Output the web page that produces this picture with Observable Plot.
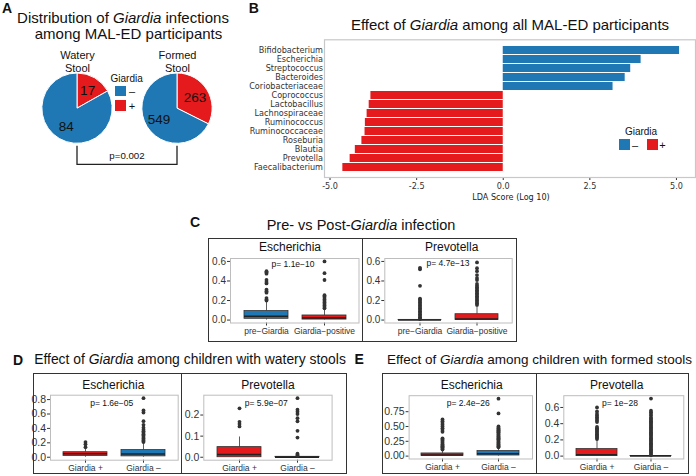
<!DOCTYPE html>
<html><head><meta charset="utf-8">
<script src="https://cdn.jsdelivr.net/npm/d3@7"></script>
<script src="https://cdn.jsdelivr.net/npm/@observablehq/plot@0.6"></script>
<style>
html,body{margin:0;padding:0;background:#fff;}
#fig{position:relative;width:696px;height:476px;overflow:hidden;font-family:"Liberation Sans",Arial,Helvetica,sans-serif;color:#111;background:#fff;}
.t{position:absolute;white-space:nowrap;line-height:1;transform:translate(-50%,-50%);}
.box{position:absolute;border:1px solid #333;box-sizing:border-box;}
.vl{position:absolute;width:1px;background:#333;}
.sw{position:absolute;width:11px;height:11px;}
.cond{font-family:"Liberation Sans Narrow","Arial Narrow","DejaVu Sans Condensed",sans-serif;}
svg.bx g[aria-label^="x-axis"] text{font-size:8.5px;}
</style></head><body><div id="fig"></div>
<script>
// ---------- Panel A data ----------
const stoolTypes = ["Watery\nStool", "Formed\nStool"];
const giardiaNeg = [84, 549];
const giardiaPos = [17, 263];
const pValueA = "p=0.002";

// ---------- Panel B data ----------
const genera = ["Bifidobacterium","Escherichia","Streptococcus","Bacteroides","Coriobacteriaceae","Coprococcus","Lactobacillus","Lachnospiraceae","Ruminococcus","Ruminococcaceae","Roseburia","Blautia","Prevotella","Faecalibacterium"];
const ldaScores = [5.09, 3.98, 3.68, 3.52, 3.17, -3.82, -3.87, -3.93, -3.98, -3.99, -4.08, -4.27, -4.42, -4.63];
const ldaGroup = ["–","–","–","–","–","+","+","+","+","+","+","+","+","+"];
const ldaTicks = [-5, -2.5, 0, 2.5, 5];

// ---------- Box plot groups ----------
const groupsC = ["pre−Giardia", "Giardia−positive"];
const groupsDE = ["Giardia +", "Giardia –"];
// each row: [q1, median, q3, lower whisker, upper whisker]
const boxC_Esch = [[0.013, 0.04, 0.092, 0, 0.19], [0.005, 0.022, 0.047, 0, 0.11]];
const outC_Esch = [[0.20, 0.21, 0.225, 0.28, 0.295, 0.31, 0.375, 0.39, 0.41, 0.475, 0.49, 0.50],
                   [0.12, 0.135, 0.15, 0.165, 0.18, 0.195, 0.21, 0.225, 0.24, 0.255, 0.41, 0.48, 0.60]];
const boxC_Prev = [[0, 0, 0.002, 0, 0.004], [0, 0.012, 0.06, 0, 0.145]];
const outC_Prev = [[0.01, 0.02, 0.03, 0.045, 0.06, 0.075, 0.09, 0.105, 0.12, 0.135, 0.15, 0.165, 0.18, 0.195, 0.21, 0.22, 0.35, 0.52, 0.535],
                   [0.155, 0.17, 0.185, 0.2, 0.215, 0.23, 0.245, 0.26, 0.275, 0.29, 0.305, 0.32, 0.335, 0.35, 0.37, 0.41, 0.43, 0.46, 0.50, 0.53, 0.59]];
const boxD_Esch = [[0.018, 0.05, 0.07, 0, 0.12], [0.012, 0.045, 0.1, 0, 0.2]];
const outD_Esch = [[0.14, 0.18, 0.21],
                   [0.21, 0.225, 0.24, 0.26, 0.28, 0.30, 0.32, 0.34, 0.36, 0.38, 0.41, 0.45, 0.50, 0.62, 0.65, 0.82]];
const boxD_Prev = [[0, 0.013, 0.048, 0, 0.096], [0, 0, 0.002, 0, 0.004]];
const outD_Prev = [[0.146, 0.158, 0.168, 0.232],
                   [0.008, 0.012, 0.017, 0.093, 0.125, 0.17, 0.185, 0.205, 0.215, 0.225, 0.28]];
const boxE_Esch = [[0.005, 0.02, 0.045, 0, 0.1], [0.01, 0.04, 0.085, 0, 0.14]];
const outE_Esch = [[0.11, 0.12, 0.135, 0.15, 0.165, 0.18, 0.2, 0.22, 0.24, 0.26, 0.28, 0.3, 0.41, 0.44, 0.47, 0.5, 0.53, 0.56, 0.59, 0.62],
                   [0.15, 0.165, 0.18, 0.195, 0.21, 0.225, 0.24, 0.255, 0.27, 0.285, 0.3, 0.315, 0.33, 0.345, 0.36, 0.375, 0.39, 0.405, 0.42, 0.435, 0.45, 0.465, 0.48, 0.5, 0.72, 0.97]];
const boxE_Prev = [[0, 0.018, 0.087, 0, 0.2], [0, 0, 0.002, 0, 0.004]];
const outE_Prev = [[0.21, 0.225, 0.24, 0.255, 0.27, 0.285, 0.3, 0.315, 0.33, 0.345, 0.36, 0.42, 0.44, 0.46, 0.48, 0.5, 0.52, 0.55, 0.6],
                   [0.01, 0.025, 0.04, 0.055, 0.07, 0.085, 0.1, 0.115, 0.13, 0.145, 0.16, 0.175, 0.19, 0.205, 0.22, 0.235, 0.25, 0.265, 0.28, 0.295, 0.31, 0.325, 0.34, 0.355, 0.37, 0.385, 0.4, 0.415, 0.43, 0.445, 0.46, 0.475, 0.5, 0.52, 0.54, 0.56, 0.71]];
const pLabels = ["p= 1.1e−10", "p= 4.7e−13", "p= 1.6e−05", "p= 5.9e−07", "p= 2.4e−26", "p= 1e−28"];

const BLUE = "#1f78b4", RED = "#e41a1c";

// ---------- helpers ----------
const fig = document.getElementById("fig");
function T(html, x, y, size, o = {}) {
  const d = document.createElement("div");
  d.className = "t" + (o.cls ? " " + o.cls : "");
  d.innerHTML = html;
  d.style.left = x + "px"; d.style.top = y + "px"; d.style.fontSize = size + "px";
  if (o.bold) d.style.fontWeight = "bold";
  if (o.color) d.style.color = o.color;
  (o.parent || fig).appendChild(d);
  return d;
}
function place(el, left, top, parent) {
  el.style.position = "absolute"; el.style.left = left + "px"; el.style.top = top + "px";
  (parent || fig).appendChild(el);
}
function div(cls, l, t, w, h, bg) {
  const d = document.createElement("div");
  d.className = cls; d.style.left = l + "px"; d.style.top = t + "px";
  if (w != null) d.style.width = w + "px"; if (h != null) d.style.height = h + "px";
  if (bg) d.style.background = bg;
  fig.appendChild(d); return d;
}

// ---------- Panel A ----------
T("A", 7, 8, 14, {bold: true});
T("Distribution of <i>Giardia</i> infections", 123, 16.7, 15);
T("among MAL-ED participants", 128.5, 33.3, 15);

const pieData = stoolTypes.map((s, i) => ({stool: s, neg: giardiaNeg[i], pos: giardiaPos[i]}));
const pieColors = {"+": RED, "–": BLUE};
function pies(index, scales, values, dims) {
  const x = scales.x;
  const r = (dims.height - dims.marginTop - dims.marginBottom) / 2;
  const cy = dims.marginTop + r;
  const g = d3.create("svg:g");
  const pie = d3.pie().sort(null).value(d => d.v);
  const arc = d3.arc().innerRadius(0).outerRadius(r);
  const lab = d3.arc().innerRadius(r * 0.6).outerRadius(r * 0.6);
  pieData.forEach(d => {
    const arcs = pie([{k: "+", v: d.pos}, {k: "–", v: d.neg}]);
    const gg = g.append("g").attr("transform", `translate(${x(d.stool)},${cy})`);
    gg.selectAll("path").data(arcs).join("path").attr("d", arc)
      .attr("fill", a => pieColors[a.data.k]).attr("stroke", "white").attr("stroke-width", 1);
    gg.selectAll("text").data(arcs).join("text")
      .attr("transform", a => `translate(${lab.centroid(a)})`)
      .attr("text-anchor", "middle").attr("dy", "0.36em").attr("font-size", 13.5).attr("fill", "#111")
      .text(a => a.data.v);
  });
  const x0 = x(stoolTypes[0]), x1 = x(stoolTypes[1]);
  const yb0 = cy + r + 2.5, yb1 = dims.height - 5.7;
  g.append("path").attr("d", `M${x0},${yb0}V${yb1}H${x1}V${yb0}`)
    .attr("fill", "none").attr("stroke", "#222").attr("stroke-width", 1.3);
  g.append("text").attr("x", (x0 + x1) / 2).attr("y", yb1 - 8.6).attr("dy", "0.36em")
    .attr("text-anchor", "middle").attr("font-size", 9.7).attr("fill", "#111").text(pValueA);
  return g.node();
}
const pieSvg = Plot.plot({
  width: 230, height: 125, marginLeft: 76.7, marginRight: 52.3, marginTop: 28, marginBottom: 26.7,
  style: {background: "transparent", fontFamily: "Liberation Sans, Arial, sans-serif", overflow: "visible"},
  x: {type: "point", domain: stoolTypes, padding: 0, axis: null},
  marks: [
    Plot.text(pieData, {x: "stool", text: "stool", frameAnchor: "top", lineAnchor: "bottom", dy: -1.3, fontSize: 11, lineHeight: 1.22, fill: "#111"}),
    pies
  ]
});
place(pieSvg, 0, 45);
// legend A
T("Giardia", 126.7, 79, 10);
div("sw", 115, 85.5, 10.5, 10.5, BLUE);
div("sw", 115, 100, 10.5, 10.5, RED);
T("–", 132, 90.5, 11);
T("+", 132, 105.5, 11);

// ---------- Panel B ----------
T("B", 253.8, 7.5, 14, {bold: true});
T("Effect of <i>Giardia</i> among all MAL-ED participants", 510, 24, 15);
const barData = genera.map((g, i) => ({genus: g, lda: ldaScores[i], grp: ldaGroup[i]}));
const barSvg = Plot.plot({
  width: 466, height: 170, marginLeft: 94, marginRight: 1, marginTop: 9.3, marginBottom: 23,
  style: {background: "transparent", fontFamily: "Liberation Sans Narrow, Arial Narrow, DejaVu Sans Condensed, sans-serif", fontSize: "9px", color: "#333"},
  x: {domain: [-5.16, 5.55], ticks: ldaTicks, tickFormat: d => d.toFixed(1), tickSize: 3, tickPadding: 2, label: null},
  y: {domain: genera, padding: 0.1, tickSize: 0, tickPadding: 1.5, label: null},
  color: {domain: ["–", "+"], range: [BLUE, RED]},
  marks: [
    Plot.barX(barData, {x: "lda", y: "genus", fill: "grp"}),
    Plot.frame({stroke: "#c8c8c8", strokeWidth: 1.2})
  ]
});
place(barSvg, 230, 30);
T("LDA Score (Log 10)", 511, 196.5, 9, {cls: "cond", color: "#222"});
// legend B
T("Giardia", 641, 132, 10);
div("sw", 619, 139, 11, 11, BLUE);
div("sw", 646.7, 139, 11, 11, RED);
T("–", 635, 144.5, 11);
T("+", 662.5, 144.5, 11);

// ---------- box plot facets ----------
function boxFacet(o) {
  const stats = o.groups.map((g, i) => ({g, q1: o.box[i][0], med: o.box[i][1], q3: o.box[i][2], lo: o.box[i][3], hi: o.box[i][4], col: o.fills[i]}));
  const outs = o.groups.flatMap((g, i) => o.out[i].map(v => ({g, v})));
  const svg = Plot.plot({
    width: o.w, height: o.h, marginLeft: o.ml, marginRight: o.mr, marginTop: o.mt, marginBottom: o.mb,
    style: {background: "transparent", fontFamily: "Liberation Sans, Arial, sans-serif", fontSize: o.yfs + "px", color: "#333", overflow: "visible"},
    x: {type: "band", domain: o.groups, paddingInner: 0.25, paddingOuter: 0.225, tickSize: 3, tickPadding: o.xpad, label: null},
    y: {domain: o.ydom, ticks: o.yticks, tickFormat: d3.format(o.fmt), tickSize: 3, tickPadding: 1.5, label: null},
    color: {type: "identity"},
    marks: [
      Plot.frame({stroke: "#bdbdbd"}),
      Plot.ruleX(stats, {x: "g", y1: "q3", y2: "hi", stroke: "#333", strokeWidth: 0.8}),
      Plot.ruleX(stats, {x: "g", y1: "lo", y2: "q1", stroke: "#333", strokeWidth: 0.8}),
      Plot.barY(stats, {x: "g", y1: "q1", y2: "q3", fill: "col", stroke: "#333", strokeWidth: 0.8}),
      Plot.tickY(stats, {x: "g", y: "med", stroke: "#222", strokeWidth: 1.5}),
      Plot.dot(outs, {x: "g", y: "v", r: 1.9, fill: "#333", stroke: "none"})
    ]
  });
  svg.classList.add("bx");
  place(svg, o.left, o.top);
}

// Panel C
T("C", 195, 222, 14, {bold: true});
T("Pre- vs Post-<i>Giardia</i> infection", 361, 225, 14.5);
div("box", 207.5, 238, 309, 104);
div("vl", 361.5, 238, null, 104);
boxFacet({left: 208, top: 238, w: 154, h: 104, ml: 22, mr: 3.5, mt: 20, mb: 19.5, groups: groupsC, box: boxC_Esch, out: outC_Esch, fills: [BLUE, RED], ydom: [-0.03, 0.63], yticks: [0, 0.2, 0.4, 0.6], fmt: ".1f", yfs: 10, xpad: 2});
boxFacet({left: 362, top: 238, w: 154.5, h: 104, ml: 22.3, mr: 4.8, mt: 20, mb: 19.5, groups: groupsC, box: boxC_Prev, out: outC_Prev, fills: [BLUE, RED], ydom: [-0.03, 0.63], yticks: [0, 0.2, 0.4, 0.6], fmt: ".1f", yfs: 10, xpad: 2});
T("Escherichia", 290, 247, 12);
T("Prevotella", 451.7, 247, 12);
T(pLabels[0], 293, 264, 8.5);
T(pLabels[1], 448, 263, 8.5);

// Panel D
T("D", 18, 359.7, 14, {bold: true});
T("Effect of <i>Giardia</i> among children with watery stools", 190, 360, 13.9);
div("box", 32.7, 373.3, 314.3, 100.7);
div("vl", 181.2, 373.3, null, 100.7);
boxFacet({left: 33, top: 373.3, w: 148.7, h: 100.7, ml: 17, mr: 4, mt: 21.7, mb: 14, groups: groupsDE, box: boxD_Esch, out: outD_Esch, fills: [RED, BLUE], ydom: [-0.041, 0.861], yticks: [0, 0.2, 0.4, 0.6, 0.8], fmt: ".1f", yfs: 10.5, xpad: 1.5});
boxFacet({left: 181.7, top: 373.3, w: 165.3, h: 100.7, ml: 21.3, mr: 15.7, mt: 21.7, mb: 14, groups: groupsDE, box: boxD_Prev, out: outD_Prev, fills: [RED, BLUE], ydom: [-0.014, 0.294], yticks: [0, 0.1, 0.2], fmt: ".1f", yfs: 10.5, xpad: 1.5});
T("Escherichia", 113.3, 385, 12);
T("Prevotella", 268, 385, 12);
T(pLabels[2], 111.7, 403.3, 8.5);
T(pLabels[3], 266.3, 403.3, 8.5);

// Panel E
T("E", 359.2, 358.5, 14, {bold: true});
T("Effect of <i>Giardia</i> among children with formed stools", 539.5, 360, 13.5);
div("box", 381.7, 373.3, 307.3, 100.7);
div("vl", 535.5, 373.3, null, 100.7);
boxFacet({left: 381.7, top: 373.3, w: 154.3, h: 100.7, ml: 26.6, mr: 4.3, mt: 22.2, mb: 15.2, groups: groupsDE, box: boxE_Esch, out: outE_Esch, fills: [RED, BLUE], ydom: [-0.0485, 1.02], yticks: [0, 0.25, 0.5, 0.75], fmt: ".2f", yfs: 10.5, xpad: 1.5});
boxFacet({left: 536, top: 373.3, w: 153, h: 100.7, ml: 27.3, mr: 5.7, mt: 22.2, mb: 15.2, groups: groupsDE, box: boxE_Prev, out: outE_Prev, fills: [RED, BLUE], ydom: [-0.0355, 0.745], yticks: [0, 0.2, 0.4, 0.6], fmt: ".1f", yfs: 10.5, xpad: 1.5});
T("Escherichia", 471.7, 385, 12);
T("Prevotella", 616.7, 385, 12);
T(pLabels[4], 468.3, 403.3, 8.5);
T(pLabels[5], 620, 403.3, 8.5);
</script></body></html>
